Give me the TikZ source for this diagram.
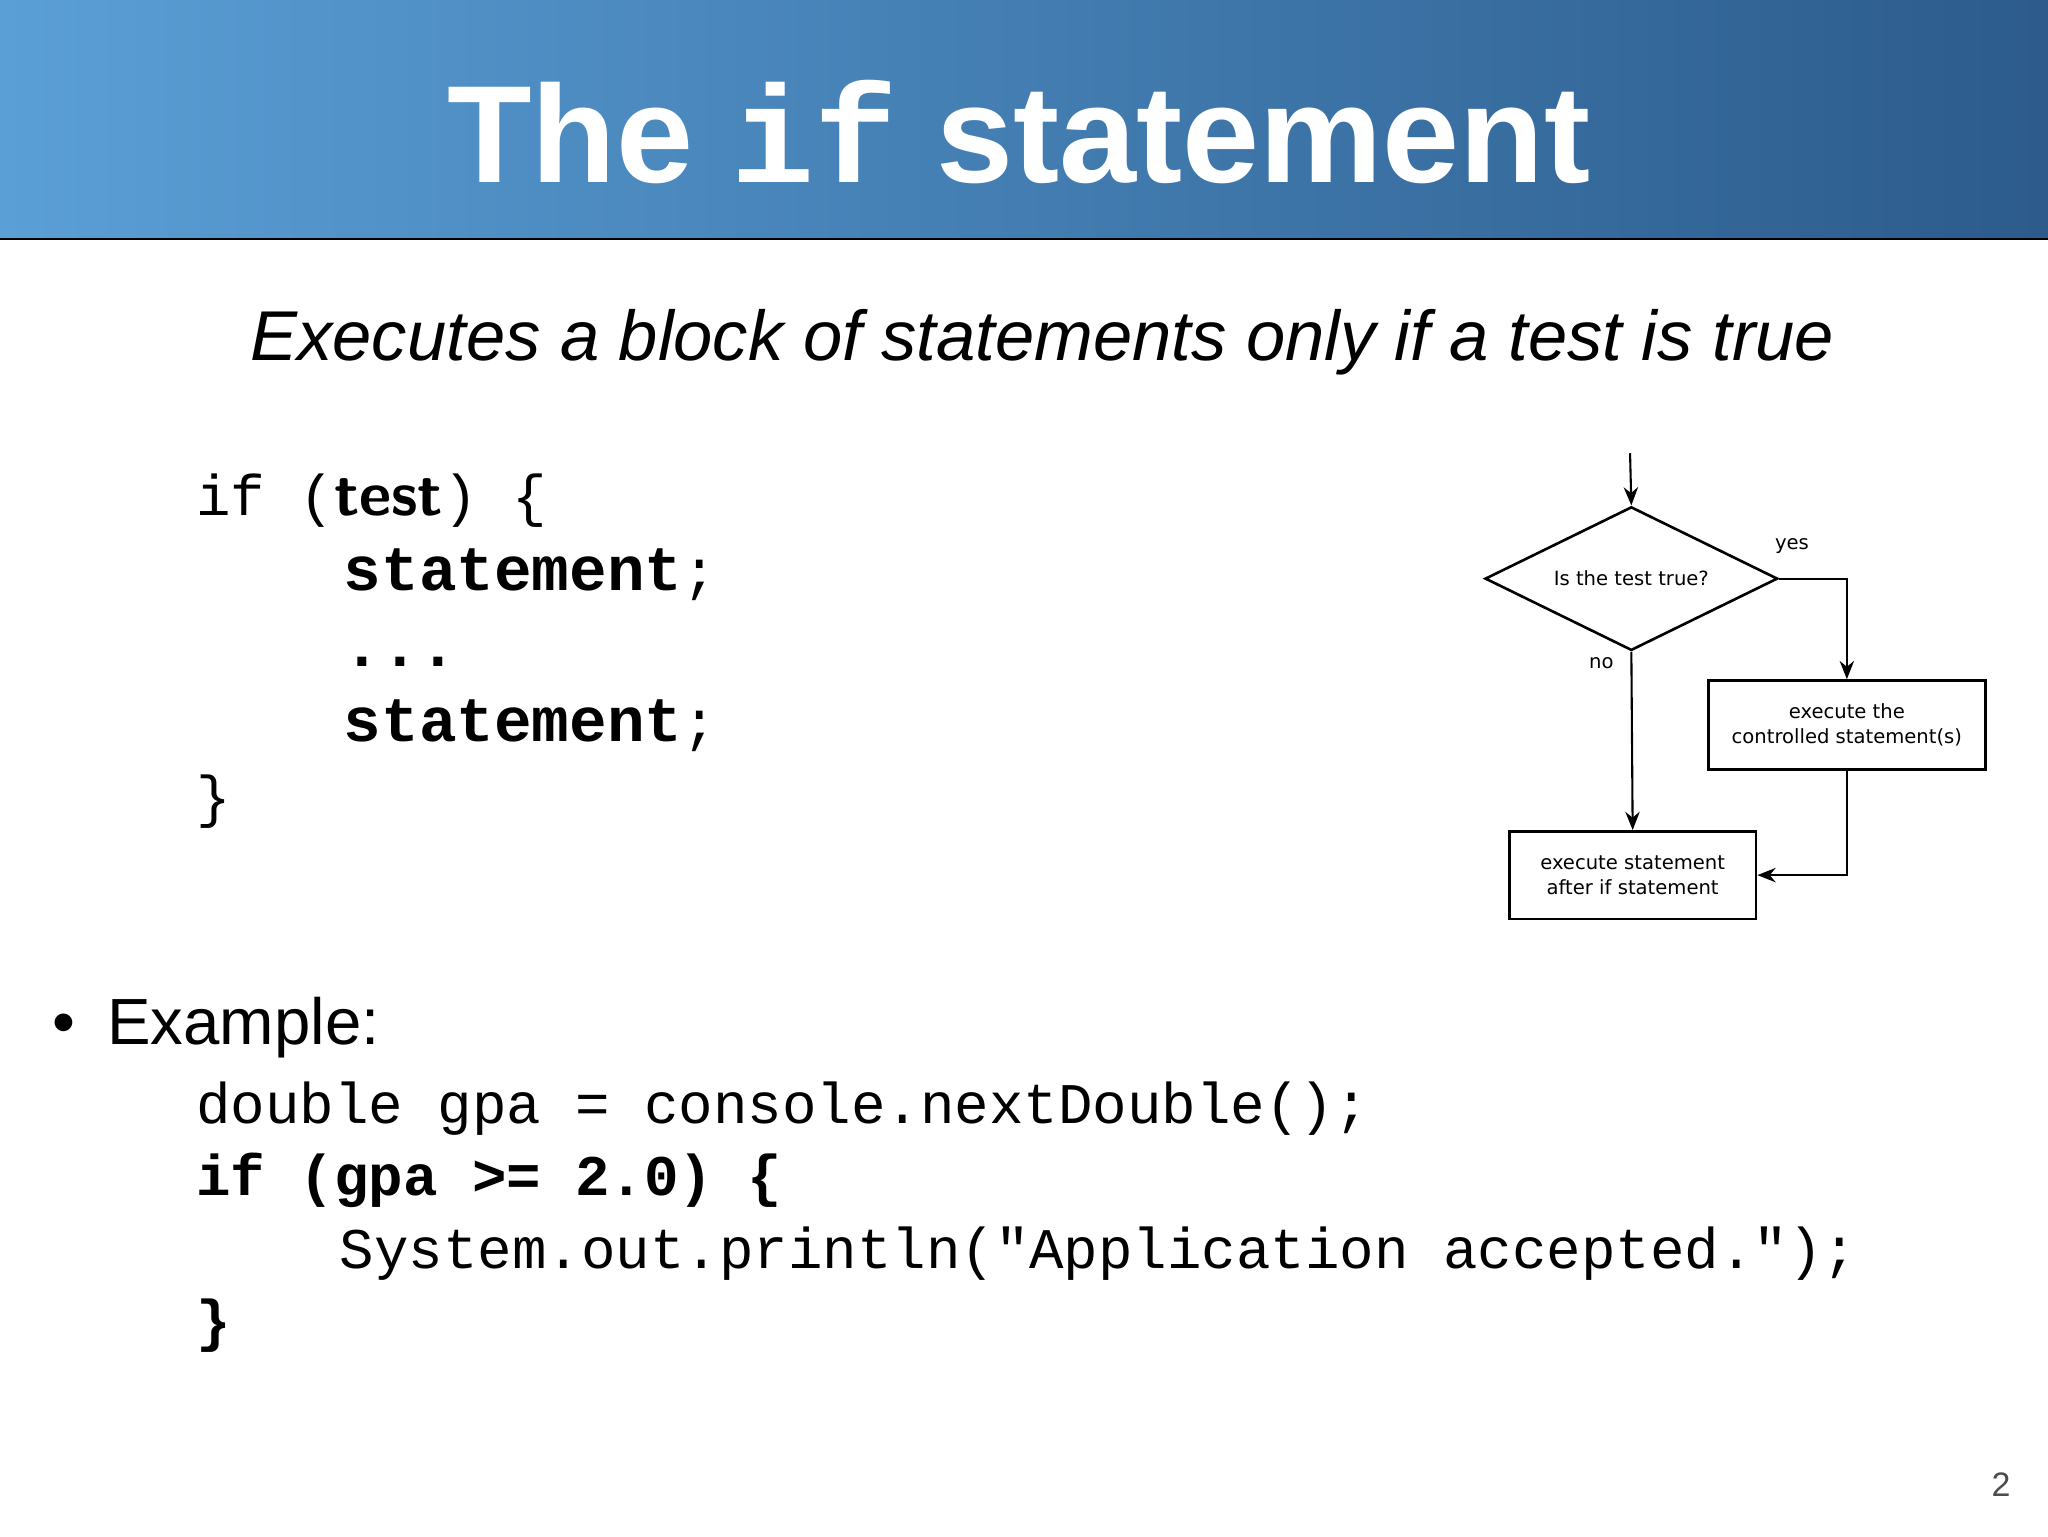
\documentclass[tikz,border=0pt]{standalone}
\usepackage{fontspec}
\setmainfont{Liberation Sans}
\setmonofont{Liberation Mono}
\newfontfamily\djv{DejaVu Sans}
\usetikzlibrary{shapes.geometric,arrows.meta}
\definecolor{barL}{HTML}{5A9FD6}
\definecolor{barR}{HTML}{2C5B8C}
\tikzset{
  fc/.style={font=\djv\fontsize{15}{19}\selectfont},
  fbox/.style={fc,draw,line width=2pt,align=center,inner sep=0pt},
  arr/.style={line width=1.6pt,-{Stealth[length=14pt,width=11pt]}},
  code/.style={anchor=base west,inner sep=0pt,font=\ttfamily\fontsize{44}{44}\selectfont}
}
\begin{document}
\begin{tikzpicture}[x=1pt,y=-1pt]
\useasboundingbox (0,0) rectangle (1568,1176);
\fill[white] (0,0) rectangle (1568,1176);
\shade[left color=barL,right color=barR] (0,0) rectangle (1568,183);
\draw[line width=1.5pt] (0,183) -- (1568,183);
\node (title) [anchor=base,inner sep=0pt,text=white,font=\bfseries\fontsize{106}{106}\selectfont] at (780,140) {The \texttt{if} statement};
\node (sub) [anchor=base,inner sep=0pt,font=\itshape\fontsize{54}{54}\selectfont] at (798,276) {Executes a block of statements only if a test is true};
% syntax
\node (s1) [code] at (150,395) {if (\textbf{\sffamily\fontsize{48}{48}\selectfont test}) \{};
\node (s2) [code] at (263,452) {\textbf{\fontsize{48}{48}\selectfont statement};};
\node (s3) [code] at (263,510) {\textbf{\fontsize{48}{48}\selectfont ...}};
\node (s4) [code] at (263,568) {\textbf{\fontsize{48}{48}\selectfont statement};};
\node (s5) [code] at (150,625) {\}};
% flowchart
\node (d) [fc,diamond,draw,line width=2pt,minimum width=224pt,minimum height=110pt,inner sep=0pt,aspect=2] at (1249,443) {};
\node (dt) [fc] at (1249,443) {Is the test true?};
\coordinate (top) at (1248,347);
\node (b1) [fbox,minimum width=212pt,minimum height=68pt] at (1414,555) {execute the\\controlled statement(s)};
\node (b2) [fbox,minimum width=189pt,minimum height=67pt] at (1250,670) {execute statement\\after if statement};
\draw[arr] (top) -- (d.north);
\draw[arr] (d.east) -| (b1.north);
\draw[arr] (d.south) -- (b2.north);
\draw[arr] (b1.south) |- (b2.east);
\node (yes) [fc] at (1372,418) {yes};
\node (no) [fc] at (1226,508) {no};
% example
\node (bul) [anchor=base west,inner sep=0pt,font=\fontsize{50}{50}\selectfont] at (40,800) {•};
\node (ex) [anchor=base west,inner sep=0pt,font=\fontsize{50}{50}\selectfont] at (82,800) {Example:};
\node (c1) [code] at (150,860) {double gpa = console.nextDouble();};
\node (c2) [code] at (150,915) {\bfseries if (gpa >= 2.0) \{};
\node (c3) [code] at (260,971) {System.out.println("Application accepted.");};
\node (c4) [code] at (150,1026) {\bfseries \}};
\node (pg) [anchor=base,inner sep=0pt,font=\fontsize{26}{26}\selectfont,text=black!70] at (1532,1146) {2};
\end{tikzpicture}
\end{document}
